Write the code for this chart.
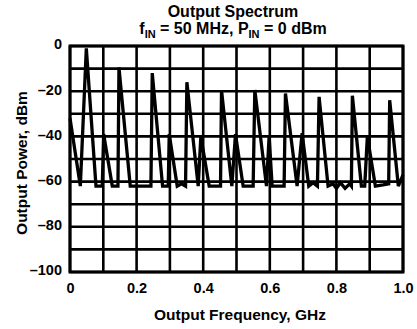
<!DOCTYPE html>
<html>
<head>
<meta charset="utf-8">
<script src="https://cdn.jsdelivr.net/npm/d3@7"></script>
<style>
  body { margin: 0; background: #fff; }
  svg { display: block; font-family: 'Liberation Sans', Arial, sans-serif; font-weight: bold; }
</style>
</head>
<body>
<div id="chart"></div>
<script>
// spectrum trace (GHz, dBm)
const freqGHz = [
  0.000, 0.031, 0.049, 0.078, 0.097, 0.101, 0.127, 0.144, 0.147, 0.181,
  0.243, 0.247, 0.278, 0.295, 0.298, 0.322, 0.335, 0.347, 0.351, 0.385,
  0.393, 0.418, 0.452, 0.455, 0.486, 0.497, 0.520, 0.550, 0.555, 0.590,
  0.598, 0.607, 0.643, 0.647, 0.682, 0.697, 0.717, 0.730, 0.743, 0.748,
  0.775, 0.790, 0.800, 0.812, 0.826, 0.840, 0.845, 0.848, 0.875, 0.885,
  0.893, 0.917, 0.940, 0.957, 0.960, 0.986, 1.000
]
const powerDbm = [
  -32, -62, -1, -62, -62, -39, -62, -62, -9.5, -62,
  -62, -12, -62, -62, -39, -62, -61, -62, -16, -62,
  -40, -62, -62, -19.5, -62, -39, -62, -62, -19.5, -62,
  -40, -62, -62, -21, -62, -38.6, -62, -60.5, -62, -22.5,
  -62, -61, -63, -60.5, -63, -61, -62, -22, -62, -62,
  -40, -62, -61.5, -61, -24, -62, -57
]

const xTickLabels = [0, 0.2, 0.4, 0.6, 0.8, 1.0]
const yTickLabels = [0, -20, -40, -60, -80, -100]

const width = 417
const height = 329
const margin = { top: 46, left: 70, right: 14, bottom: 57 }

const svg = d3
  .select('#chart')
  .append('svg')
  .attr('width', width)
  .attr('height', height)

const x = d3
  .scaleLinear()
  .domain([0, 1])
  .range([margin.left, width - margin.right])
const y = d3
  .scaleLinear()
  .domain([-100, 0])
  .range([height - margin.bottom, margin.top])

// grid every 0.1 GHz and 10 dB
const grid = svg.append('g').attr('stroke', '#000').attr('stroke-width', 2.6)
grid
  .selectAll('.vgrid')
  .data(x.ticks(10))
  .enter()
  .append('line')
  .attr('x1', d => x(d))
  .attr('x2', d => x(d))
  .attr('y1', y(0))
  .attr('y2', y(-100))
grid
  .selectAll('.hgrid')
  .data(y.ticks(10))
  .enter()
  .append('line')
  .attr('x1', x(0))
  .attr('x2', x(1))
  .attr('y1', d => y(d))
  .attr('y2', d => y(d))

svg
  .append('rect')
  .attr('x', x(0))
  .attr('y', y(0))
  .attr('width', x(1) - x(0))
  .attr('height', y(-100) - y(0))
  .attr('fill', 'none')
  .attr('stroke', '#000')
  .attr('stroke-width', 3)

// trace
const line = d3
  .line()
  .x((d, i) => x(freqGHz[i]))
  .y(d => y(d))

svg
  .append('path')
  .datum(powerDbm)
  .attr('d', line)
  .attr('fill', 'none')
  .attr('stroke', '#000')
  .attr('stroke-width', 3.3)
  .attr('stroke-linejoin', 'miter')

// axes labels
const xAxis = d3
  .axisBottom(x)
  .tickValues(xTickLabels)
  .tickSize(0)
  .tickPadding(11)
  .tickFormat(d => (d === 0 ? '0' : d.toFixed(1)))
const yAxis = d3
  .axisLeft(y)
  .tickValues(yTickLabels)
  .tickSize(0)
  .tickPadding(8)
  .tickFormat(d => (d === 0 ? '0' : '\u2013' + Math.abs(d)))

svg
  .append('g')
  .attr('transform', `translate(0,${y(-100)})`)
  .call(xAxis)
  .call(g => g.select('.domain').remove())
  .selectAll('text')
  .attr('fill', '#000')
  .style('font-size', '14.5px')
  .style('font-family', 'Liberation Sans, Arial, sans-serif')
  .style('font-weight', 'bold')

svg
  .append('g')
  .attr('transform', `translate(${x(0)},0)`)
  .call(yAxis)
  .call(g => g.select('.domain').remove())
  .selectAll('text')
  .attr('fill', '#000')
  .attr('dy', '0.2em')
  .style('font-size', '14.5px')
  .style('font-family', 'Liberation Sans, Arial, sans-serif')
  .style('font-weight', 'bold')

svg
  .append('text')
  .attr('x', 240)
  .attr('y', 320)
  .attr('text-anchor', 'middle')
  .style('font-size', '15.5px')
  .text('Output Frequency, GHz')

svg
  .append('text')
  .attr('transform', 'translate(27,163) rotate(-90)')
  .attr('text-anchor', 'middle')
  .style('font-size', '15.5px')
  .text('Output Power, dBm')

// title
svg
  .append('text')
  .attr('x', 233)
  .attr('y', 17)
  .attr('text-anchor', 'middle')
  .style('font-size', '16px')
  .text('Output Spectrum')

const sub = svg
  .append('text')
  .attr('x', 233)
  .attr('y', 34)
  .attr('text-anchor', 'middle')
  .style('font-size', '16px')
sub.append('tspan').text('f')
sub.append('tspan').attr('dy', 4).style('font-size', '11px').text('IN')
sub.append('tspan').attr('dy', -4).text(' = 50 MHz, P')
sub.append('tspan').attr('dy', 4).style('font-size', '11px').text('IN')
sub.append('tspan').attr('dy', -4).text(' = 0 dBm')
</script>
</body>
</html>
